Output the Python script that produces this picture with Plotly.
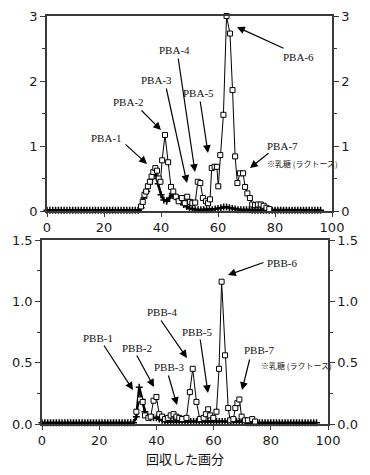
import plotly.graph_objects as go

# ---------------- data ----------------
# Panel A (PBA) - open-square series
pba_sq_x = [33, 33.6, 34.2, 34.8, 35.4, 36.1, 36.7, 37.3, 38, 38.6, 39.2, 39.8, 40.4, 41.4, 42.5, 43.5,
            44.3, 45.2, 46.2, 47.3, 48.3, 49.2, 50.2, 51, 52, 52.9, 53.8, 54.7, 55.8, 56.5, 57.2, 57.8,
            58.8, 59.6, 60.1, 60.8, 61.9, 63, 64.2, 65.1, 66, 66.8, 67.7, 68.8, 69.5, 70.3, 71.2, 72,
            73, 74, 75, 76, 77, 78]
pba_sq_y = [0.07, 0.14, 0.25, 0.3, 0.38, 0.45, 0.53, 0.6, 0.66, 0.62, 0.5, 0.45, 0.78, 1.17, 0.75, 0.37,
            0.3, 0.22, 0.15, 0.2, 0.12, 0.22, 0.14, 0.12, 0.13, 0.45, 0.43, 0.2, 0.15, 0.12, 0.18, 0.66,
            0.68, 0.68, 0.38, 0.86, 1.48, 3.0, 2.73, 1.86, 0.84, 0.43, 0.58, 0.58, 0.37, 0.27, 0.2, 0.1,
            0.09, 0.1, 0.1, 0.08, 0.05, 0.03]
# Panel A - black cross series (fractions 0..96)
pba_cr_x = list(range(0, 97))
pba_cr_y = [0.01, 0.01, 0.01, 0.01, 0.01, 0.01, 0.01, 0.01, 0.01, 0.01,
            0.01, 0.01, 0.01, 0.01, 0.01, 0.01, 0.01, 0.01, 0.01, 0.01,
            0.01, 0.01, 0.01, 0.01, 0.01, 0.01, 0.01, 0.01, 0.01, 0.01,
            0.01, 0.01, 0.01, 0.05, 0.2, 0.3, 0.42, 0.5, 0.6, 0.42,
            0.25, 0.17, 0.15, 0.2, 0.27, 0.22, 0.18, 0.14, 0.1, 0.07,
            0.04, 0.03, 0.02, 0.02, 0.02, 0.02, 0.02, 0.02, 0.02, 0.03,
            0.04, 0.05, 0.06, 0.06, 0.05, 0.04, 0.03, 0.02, 0.02, 0.02,
            0.02, 0.02, 0.01, 0.01, 0.01, 0.01, 0.01, 0.01, 0.01, 0.01,
            0.01, 0.01, 0.01, 0.01, 0.01, 0.01, 0.01, 0.01, 0.01, 0.01,
            0.01, 0.01, 0.01, 0.01, 0.01, 0.01, 0.01]

# Panel B (PBB) - open-square series
pbb_sq_x = [33, 34.3, 35.2, 36, 37.2, 38, 39, 40, 41, 42, 43, 44, 45, 46, 47, 48, 49, 50.5, 51.7, 52.7,
            54, 55.2, 56.5, 57.3, 58.1, 58.8, 59.9, 61, 61.9, 62.8, 64, 65.1, 65.8, 66.9, 67.6, 68.3,
            69, 69.8, 71, 72, 73.5, 74.5]
pbb_sq_y = [0.1, 0.2, 0.18, 0.07, 0.05, 0.06, 0.19, 0.22, 0.08, 0.06, 0.04, 0.05, 0.07, 0.08, 0.06,
            0.05, 0.04, 0.05, 0.26, 0.45, 0.18, 0.04, 0.05, 0.08, 0.12, 0.07, 0.05, 0.1, 0.45, 1.16,
            0.56, 0.13, 0.03, 0.04, 0.13, 0.17, 0.2, 0.06, 0.03, 0.03, 0.04, 0.02]
# Panel B - black cross series
pbb_cr_x = list(range(0, 97))
pbb_cr_y = [0.01, 0.01, 0.01, 0.01, 0.01, 0.01, 0.01, 0.01, 0.01, 0.01,
            0.01, 0.01, 0.01, 0.01, 0.01, 0.01, 0.01, 0.01, 0.01, 0.01,
            0.01, 0.01, 0.01, 0.01, 0.01, 0.01, 0.01, 0.01, 0.01, 0.01,
            0.01, 0.01, 0.01, 0.06, 0.3, 0.2, 0.1, 0.06, 0.05, 0.05,
            0.05, 0.04, 0.03, 0.02, 0.02, 0.02, 0.02, 0.02, 0.02, 0.02,
            0.02, 0.02, 0.02, 0.02, 0.02, 0.02, 0.02, 0.02, 0.02, 0.02,
            0.02, 0.02, 0.02, 0.02, 0.02, 0.02, 0.02, 0.02, 0.02, 0.02,
            0.02, 0.02, 0.01, 0.01, 0.01, 0.01, 0.01, 0.01, 0.01, 0.01,
            0.01, 0.01, 0.01, 0.01, 0.01, 0.01, 0.01, 0.01, 0.01, 0.01,
            0.01, 0.01, 0.01, 0.01, 0.01, 0.01, 0.01]

x_ticks = [0, 20, 40, 60, 80, 100]
ya_ticks = [0, 1, 2, 3]
ya_labels = ["0", "1", "2", "3"]
yb_ticks = [0, 0.5, 1.0, 1.5]
yb_labels = ["0.0", "0.5", "1.0", "1.5"]

peak_labels_a = ["PBA-1", "PBA-2", "PBA-3", "PBA-4", "PBA-5", "PBA-6", "PBA-7"]
peak_labels_b = ["PBB-1", "PBB-2", "PBB-3", "PBB-4", "PBB-5", "PBB-6", "PBB-7"]
note_text = "※乳糖 (ラクトース)"
x_title = "回収した画分"

# ---------------- layout helpers ----------------
W, H = 370, 475
def fx(p): return p / W
def fy(p): return 1 - p / H

AX = "#3a3a3a"
TICKFONT = dict(family="DejaVu Sans", size=13, color="#1a1a1a")
LBLFONT = dict(family="Liberation Serif", size=11, color="#111")

fig = go.Figure()

def add_series(sx, sy, cx, cy, xa, ya):
    fig.add_trace(go.Scatter(x=cx, y=cy, xaxis=xa, yaxis=ya, mode="lines+markers",
                             line=dict(color="black", width=2.5),
                             marker=dict(symbol="cross-thin-open", size=5, color="black",
                                         line=dict(color="black", width=1.5)),
                             showlegend=False, cliponaxis=False, hoverinfo="skip"))
    fig.add_trace(go.Scatter(x=sx, y=sy, xaxis=xa, yaxis=ya, mode="lines+markers",
                             line=dict(color="black", width=1),
                             marker=dict(symbol="square", size=5, color="white",
                                         line=dict(color="black", width=1)),
                             showlegend=False, cliponaxis=False, hoverinfo="skip"))

add_series(pba_sq_x, pba_sq_y, pba_cr_x, pba_cr_y, "x", "y")
add_series(pbb_sq_x, pbb_sq_y, pbb_cr_x, pbb_cr_y, "x2", "y2")
# right-hand axes (empty traces so the axes get drawn)
fig.add_trace(go.Scatter(x=[], y=[], xaxis="x", yaxis="y3", showlegend=False))
fig.add_trace(go.Scatter(x=[], y=[], xaxis="x2", yaxis="y4", showlegend=False))

xa_dom = [fx(47), fx(332)]
xb_dom = [fx(42), fx(328)]
ya_dom = [fy(211), fy(16)]
yb_dom = [fy(424), fy(240)]

def xaxis(dom, anchor):
    return dict(domain=dom, anchor=anchor, range=[0, 100], tickvals=x_ticks,
                ticks="outside", ticklen=4, tickwidth=1.3, tickcolor=AX,
                showline=True, linecolor=AX, linewidth=1.5, mirror=True, automargin=False,
                showgrid=False, zeroline=False, tickfont=TICKFONT, fixedrange=True)

def yaxis(dom, anchor, rng, tv, tt, minor_dt, side="left", overlay=None):
    d = dict(domain=dom, anchor=anchor, range=rng, tickvals=tv, ticktext=tt,
             ticks="outside", ticklen=5, tickwidth=1.3, tickcolor=AX,
             minor=dict(dtick=minor_dt, tick0=0, ticks="outside", ticklen=3, tickcolor=AX, tickwidth=1),
             showline=True, linecolor=AX, linewidth=1.5, side=side, automargin=False,
             showgrid=False, zeroline=False, tickfont=TICKFONT, fixedrange=True)
    if overlay:
        d["overlaying"] = overlay
    return d

fig.update_layout(
    width=W, height=H, margin=dict(l=0, r=0, t=0, b=0, autoexpand=False),
    paper_bgcolor="white", plot_bgcolor="white",
    xaxis=xaxis(xa_dom, "y"),
    xaxis2=xaxis(xb_dom, "y2"),
    yaxis=yaxis(ya_dom, "x", [0, 3], ya_ticks, ya_labels, 0.5),
    yaxis2=yaxis(yb_dom, "x2", [0, 1.5], yb_ticks, yb_labels, 0.25),
    yaxis3=yaxis(ya_dom, "x", [0, 3], ya_ticks, ya_labels, 0.5, side="right", overlay="y"),
    yaxis4=yaxis(yb_dom, "x2", [0, 1.5], yb_ticks, yb_labels, 0.25, side="right", overlay="y2"),
)

# annotation geometry (pixels): text centre, arrow tail, arrow tip
geo_a = [((106, 138), (124, 143), (147, 164)),
         ((128, 102), (140, 109), (161, 130)),
         ((156, 80), (166, 87), (187, 183)),
         ((174, 50), (178, 57), (195, 172)),
         ((199, 93), (200, 100), (208, 153)),
         ((298, 57), (285, 49), (237, 27)),
         ((282, 146), (270, 152), (250, 168))]
geo_b = [((98, 338), (103, 344), (133, 390)),
         ((137, 348), (136, 354), (154, 387)),
         ((169, 367), (168, 374), (177, 405)),
         ((162, 312), (160, 319), (187, 358)),
         ((197, 332), (200, 338), (208, 393)),
         ((282, 263), (265, 262), (228, 275)),
         ((259, 350), (250, 358), (242, 390))]

anns = []
for labels, geo in ((peak_labels_a, geo_a), (peak_labels_b, geo_b)):
    for lab, (tc, tail, tip) in zip(labels, geo):
        anns.append(dict(text=lab, x=fx(tc[0]), y=fy(tc[1]), xref="paper", yref="paper",
                         showarrow=False, font=LBLFONT, xanchor="center", yanchor="middle"))
        anns.append(dict(text="", x=fx(tip[0]), y=fy(tip[1]), xref="paper", yref="paper",
                         ax=tail[0] - tip[0], ay=tail[1] - tip[1], axref="pixel", ayref="pixel",
                         showarrow=True, arrowhead=2, arrowsize=1.3, arrowwidth=1.2,
                         arrowcolor="black", standoff=0, startstandoff=0))

for (nx, ny) in ((265, 163), (259, 365)):
    anns.append(dict(text=note_text, x=fx(nx), y=fy(ny), xref="paper", yref="paper",
                     showarrow=False, xanchor="left", yanchor="middle",
                     font=dict(family="Noto Sans CJK JP", size=8, color="#222")))

anns.append(dict(text=x_title, x=fx(185), y=fy(458), xref="paper", yref="paper",
                 showarrow=False, xanchor="center", yanchor="middle",
                 font=dict(family="Noto Sans CJK JP", size=13, color="#111")))

fig.update_layout(annotations=anns)
fig.write_html("out.html", config={"displayModeBar": False},
               post_script="document.body.style.margin='0';document.body.style.padding='0';")
